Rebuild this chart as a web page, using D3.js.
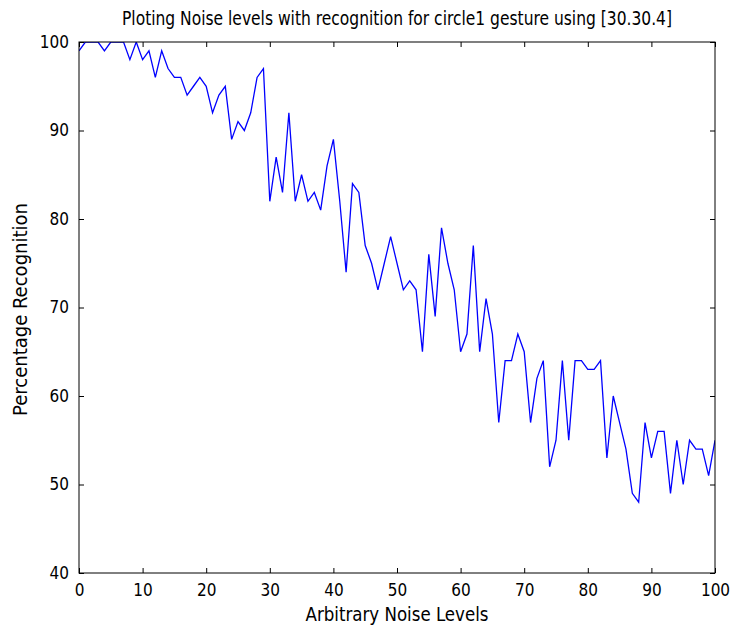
<!DOCTYPE html>
<html>
<head>
<meta charset="utf-8">
<script src="https://cdn.jsdelivr.net/npm/d3@7"></script>
<style>
  body { margin: 0; background: #fff; }
  text { font-family: "Liberation Sans Narrow", "DejaVu Sans Condensed", "Liberation Sans", sans-serif; font-stretch: condensed; fill: #000; }
</style>
</head>
<body>
<svg width="730" height="629"></svg>
<script>
// noise level on x, recognition % on y
const noiseLevels = d3.range(0, 101);
const recognition = [
  99, 100, 100, 100, 99, 100, 100, 100, 98, 100,
  98, 99, 96, 99, 97, 96, 96, 94, 95, 96,
  95, 92, 94, 95, 89, 91, 90, 92, 96, 97,
  82, 87, 83, 92, 82, 85, 82, 83, 81, 86,
  89, 82, 74, 84, 83, 77, 75, 72, 75, 78,
  75, 72, 73, 72, 65, 76, 69, 79, 75, 72,
  65, 67, 77, 65, 71, 67, 57, 64, 64, 67,
  65, 57, 62, 64, 52, 55, 64, 55, 64, 64,
  63, 63, 64, 53, 60, 57, 54, 49, 48, 57,
  53, 56, 56, 49, 55, 50, 55, 54, 54, 51,
  55
];
const xTicks = d3.range(0, 101, 10);
const yTicks = d3.range(40, 101, 10);

const svg = d3.select("svg");
const width = +svg.attr("width");
const height = +svg.attr("height");
const margin = { top: 42, right: 15, bottom: 56, left: 79 };
const innerWidth = width - margin.left - margin.right;
const innerHeight = height - margin.top - margin.bottom;

const data = noiseLevels.map((x, i) => ({ x, y: recognition[i] }));

const xScale = d3.scaleLinear().domain([0, 100]).range([0, innerWidth]);
const yScale = d3.scaleLinear().domain([40, 100]).range([innerHeight, 0]);

const g = svg.append("g")
  .attr("transform", `translate(${margin.left},${margin.top})`);

// ticks point inward on all four sides, like MATLAB
const tickLen = 5;
const styleAxis = sel => {
  sel.select(".domain").remove();
  sel.selectAll("line").attr("stroke", "#000");
  sel.selectAll("text").style("font-size", "17px");
};
const noLabels = sel => sel.selectAll("text").remove();

g.append("g")
  .attr("transform", `translate(0,${innerHeight})`)
  .call(d3.axisBottom(xScale).tickValues(xTicks).tickSize(-tickLen).tickPadding(11))
  .call(styleAxis);

g.append("g")
  .call(d3.axisTop(xScale).tickValues(xTicks).tickSize(-tickLen))
  .call(styleAxis)
  .call(noLabels);

g.append("g")
  .call(d3.axisLeft(yScale).tickValues(yTicks).tickSize(-tickLen).tickPadding(10))
  .call(styleAxis);

g.append("g")
  .attr("transform", `translate(${innerWidth},0)`)
  .call(d3.axisRight(yScale).tickValues(yTicks).tickSize(-tickLen))
  .call(styleAxis)
  .call(noLabels);

svg.append("defs").append("clipPath").attr("id", "plotClip")
  .append("rect").attr("width", innerWidth).attr("height", innerHeight);

const line = d3.line()
  .x(d => xScale(d.x))
  .y(d => yScale(d.y));

g.append("path")
  .datum(data)
  .attr("clip-path", "url(#plotClip)")
  .attr("fill", "none")
  .attr("stroke", "#0000ff")
  .attr("stroke-width", 1.3)
  .attr("d", line);

g.append("rect")
  .attr("width", innerWidth)
  .attr("height", innerHeight)
  .attr("fill", "none")
  .attr("stroke", "#000")
  .attr("stroke-width", 1);

svg.append("text")
  .attr("x", margin.left + innerWidth / 2)
  .attr("y", 25)
  .attr("text-anchor", "middle")
  .attr("textLength", 550)
  .attr("lengthAdjust", "spacingAndGlyphs")
  .style("font-size", "19px")
  .text("Ploting Noise levels with recognition for circle1 gesture using [30.30.4]");

svg.append("text")
  .attr("x", margin.left + innerWidth / 2)
  .attr("y", 621)
  .attr("text-anchor", "middle")
  .attr("textLength", 183)
  .attr("lengthAdjust", "spacingAndGlyphs")
  .style("font-size", "19px")
  .text("Arbitrary Noise Levels");

svg.append("text")
  .attr("transform", `translate(27,${margin.top + innerHeight / 2 + 2}) rotate(-90)`)
  .attr("text-anchor", "middle")
  .attr("textLength", 213)
  .attr("lengthAdjust", "spacingAndGlyphs")
  .style("font-size", "19px")
  .text("Percentage Recognition");
</script>
</body>
</html>
